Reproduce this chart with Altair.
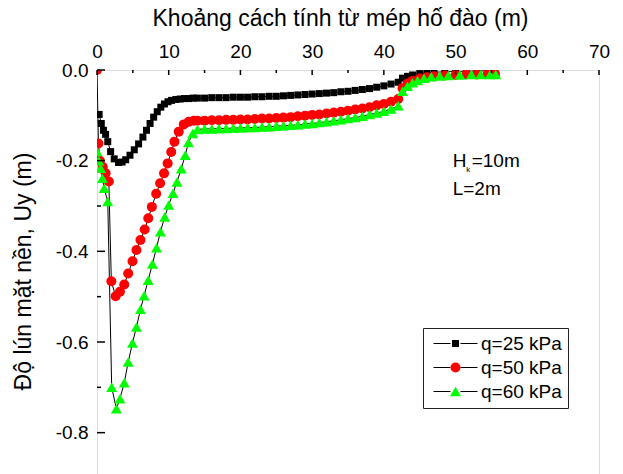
import altair as alt
import pandas as pd

FONT = "Liberation Sans"

series_names = ["q=25 kPa", "q=50 kPa", "q=60 kPa"]
series_keys = ["a", "b", "c"]
series_colors = ["#000000", "#ff0000", "#00ff00"]

x_q25 = [0.3, 0.6, 0.9, 1.2, 1.5, 1.9, 2.4, 3.0, 3.5, 4.0, 4.6, 5.2, 5.8, 6.4, 6.9, 7.4, 7.9, 8.4, 8.9, 9.4,
         9.9, 10.4, 11.0, 11.6, 12.2, 12.8, 13.4,
         14, 15, 16, 17, 18, 19, 20, 21, 22, 23, 24, 25, 26, 27, 28, 29, 30, 31, 32, 33, 34, 35, 36, 37, 38,
         39, 40, 41, 42,
         42.6, 43.3, 44, 45, 46, 47, 48.5, 50, 51.5, 53, 54.5, 55.5]
y_q25 = [-0.098, -0.118, -0.133, -0.142, -0.158, -0.180, -0.196, -0.204, -0.203, -0.198, -0.188, -0.176,
         -0.163, -0.148, -0.133, -0.118, -0.104, -0.092, -0.082, -0.075, -0.070, -0.067, -0.065, -0.064,
         -0.063, -0.063, -0.062,
         -0.062, -0.062, -0.061, -0.061, -0.061, -0.060, -0.060, -0.060, -0.059, -0.059, -0.058, -0.058,
         -0.057, -0.056, -0.055, -0.054, -0.053, -0.052, -0.051, -0.050, -0.048, -0.047, -0.045, -0.043,
         -0.041, -0.038, -0.035, -0.031, -0.027,
         -0.018, -0.014, -0.011, -0.008, -0.006, -0.005, -0.004, -0.003, -0.003, -0.002, -0.002, -0.002]

x_q50 = [0.0, 0.2, 0.4, 0.8, 1.2, 1.65, 2.0, 2.6, 3.2, 3.8, 4.35, 4.95, 5.5, 6.06, 6.65, 7.15, 7.65, 8.25,
         8.8, 9.35, 9.85, 10.35, 10.8, 11.4, 12.1, 12.8, 13.5,
         14, 15, 16, 17, 18, 19, 20, 21, 22, 23, 24, 25, 26, 27, 28, 29, 30, 31, 32, 33, 34, 35, 36, 37, 38,
         39, 40, 41, 42,
         42.6, 43.3, 44, 45, 46, 47, 48.5, 50, 51.5, 53, 54.5, 55.5]
y_q50 = [0.0, -0.162, -0.200, -0.214, -0.228, -0.246, -0.466, -0.499, -0.489, -0.473, -0.449, -0.422,
         -0.397, -0.375, -0.352, -0.327, -0.302, -0.273, -0.250, -0.228, -0.206, -0.181, -0.158, -0.136,
         -0.120, -0.114, -0.112,
         -0.112, -0.112, -0.111, -0.111, -0.110, -0.110, -0.109, -0.109, -0.108, -0.107, -0.107, -0.106,
         -0.105, -0.104, -0.102, -0.101, -0.099, -0.098, -0.096, -0.094, -0.092, -0.090, -0.087, -0.085,
         -0.082, -0.078, -0.075, -0.070, -0.064,
         -0.040, -0.030, -0.024, -0.019, -0.016, -0.014, -0.012, -0.011, -0.010, -0.010, -0.009, -0.009]

x_q60 = [0.0, 0.25, 0.5, 0.75, 1.0, 1.5, 2.05, 2.7, 3.2, 3.8, 4.35, 4.95, 5.5, 6.07, 6.57, 7.13, 7.73, 8.3,
         8.85, 9.44, 10.0, 10.6, 11.15, 11.75, 12.3, 12.75, 13.35,
         14, 15, 16, 17, 18, 19, 20, 21, 22, 23, 24, 25, 26, 27, 28, 29, 30, 31, 32, 33, 34, 35, 36, 37, 38,
         39, 40, 41, 42,
         42.6, 43.3, 44, 44.7, 45.6, 46.6, 47.8, 49, 50.6, 52.2, 53.5, 54.8, 55.6]
y_q60 = [-0.180, -0.200, -0.217, -0.239, -0.261, -0.290, -0.700, -0.747, -0.725, -0.690, -0.644, -0.602,
         -0.567, -0.528, -0.498, -0.464, -0.428, -0.392, -0.357, -0.324, -0.298, -0.272, -0.247, -0.218,
         -0.188, -0.160, -0.140,
         -0.131, -0.130, -0.130, -0.129, -0.129, -0.128, -0.128, -0.127, -0.127, -0.126, -0.125, -0.124,
         -0.123, -0.122, -0.121, -0.119, -0.118, -0.116, -0.114, -0.112, -0.110, -0.107, -0.105, -0.102,
         -0.098, -0.095, -0.091, -0.086, -0.079,
         -0.047, -0.036, -0.028, -0.023, -0.018, -0.015, -0.013, -0.012, -0.011, -0.010, -0.010, -0.010,
         -0.010]

x_tick_labels = [0, 10, 20, 30, 40, 50, 60, 70]
x_minor_ticks = [5, 15, 25, 35, 45, 55, 65]
y_tick_labels = [0.0, -0.2, -0.4, -0.6, -0.8]
y_minor_ticks = [-0.1, -0.3, -0.5, -0.7, -0.9]

# annotation anchors (data units)
note_h = {"x": [49.6], "y": [-0.2135], "t": ["H"]}
note_k = {"x": [49.6], "y": [-0.2135], "t": ["k"]}
note_v = {"x": [49.6], "y": [-0.2135], "t": ["=10m"]}
note_l = {"x": [49.6], "y": [-0.276], "t": ["L=2m"]}

rows = []
for name, key, xs, ys in zip(series_names, series_keys, [x_q25, x_q50, x_q60], [y_q25, y_q50, y_q60]):
    for i, (a, b) in enumerate(zip(xs, ys)):
        rows.append({"series": name, "key": key, "x": a, "y": b, "i": i})
df = pd.DataFrame(rows)

x_scale = alt.Scale(domain=[0, 70], nice=False, zero=False)
y_scale = alt.Scale(domain=[-0.9, 0], nice=False, zero=False)

x_axis = alt.Axis(orient="top", values=x_tick_labels, ticks=False, tickSize=0, domain=False, grid=False,
                  labelFont=FONT, labelFontSize=19, labelColor="black", labelPadding=9, format="d",
                  labelFlush=False,
                  titleFont=FONT, titleFontSize=23, titleFontWeight="normal", titleColor="black",
                  titleX=243, titleAlign="center", titleY=-45, titleBaseline="alphabetic")
y_axis = alt.Axis(orient="left", values=y_tick_labels, ticks=False, tickSize=0, domain=False, grid=False,
                  labelFont=FONT, labelFontSize=19, labelColor="black", labelPadding=9, labelFlush=False,
                  labelExpr="datum.value == 0 ? '0.0' : '-' + format(abs(datum.value), '.1f')",
                  titleFont=FONT, titleFontSize=23, titleFontWeight="normal", titleColor="black",
                  titleX=-67, titleY=201, titleAlign="center", titleBaseline="alphabetic")

LX, LY = 326, 258
common_leg = dict(orient="none", legendX=LX, legendY=LY, title=None, symbolSize=100,
                  symbolStrokeWidth=1, labelFont=FONT, labelFontSize=19, labelColor="black",
                  padding=6, rowPadding=4, symbolOffset=17, labelOffset=16)

legend_lines = alt.Legend(symbolType="M-4.4,0H-1M1,0H4.4", labelOpacity=0, symbolFillColor="transparent",
                          labelExpr="datum.label == 'a' ? 'q=25 kPa' : datum.label == 'b' ? 'q=50 kPa' : 'q=60 kPa'",
                          **common_leg)
legend_marks = alt.Legend(strokeColor="#222222", symbolStrokeColor="transparent", **common_leg)

shape_paths = ["M-0.7,-0.7H0.7V0.7H-0.7Z", "circle", "M0,-0.95L1.1,0.95L-1.1,0.95Z"]

base = alt.Chart(df)

lines = base.mark_line(strokeWidth=1, clip=True).encode(
    x=alt.X("x:Q", scale=x_scale, axis=x_axis, title="Khoảng cách tính từ mép hố đào (m)"),
    y=alt.Y("y:Q", scale=y_scale, axis=y_axis, title="Độ lún mặt nền, Uy (m)"),
    stroke=alt.Stroke("key:N", scale=alt.Scale(domain=series_keys, range=["black", "black", "black"]),
                      legend=legend_lines),
    order=alt.Order("i:Q"),
)

points = base.mark_point(filled=True, size=100, opacity=1, clip=True, strokeWidth=0).encode(
    x=alt.X("x:Q", scale=x_scale),
    y=alt.Y("y:Q", scale=y_scale),
    fill=alt.Fill("series:N", scale=alt.Scale(domain=series_names, range=series_colors), legend=legend_marks),
    shape=alt.Shape("series:N", scale=alt.Scale(domain=series_names, range=shape_paths), legend=legend_marks),
)

xmaj = alt.Chart(pd.DataFrame({"x": x_tick_labels})).mark_rule(color="black", strokeWidth=1.5).encode(
    x=alt.X("x:Q", scale=x_scale), y=alt.value(0), y2=alt.value(5))
xmin = alt.Chart(pd.DataFrame({"x": x_minor_ticks})).mark_rule(color="black", strokeWidth=1.5).encode(
    x=alt.X("x:Q", scale=x_scale), y=alt.value(0), y2=alt.value(3))
ymaj = alt.Chart(pd.DataFrame({"y": y_tick_labels})).mark_rule(color="black", strokeWidth=1.5).encode(
    y=alt.Y("y:Q", scale=y_scale), x=alt.value(0), x2=alt.value(8))
ymin = alt.Chart(pd.DataFrame({"y": y_minor_ticks})).mark_rule(color="black", strokeWidth=1.5).encode(
    y=alt.Y("y:Q", scale=y_scale), x=alt.value(0), x2=alt.value(4))


def note(d, size, dx=0, dy=0):
    return alt.Chart(pd.DataFrame(d)).mark_text(font=FONT, fontSize=size, align="left", baseline="alphabetic",
                                                dx=dx, dy=dy, color="black").encode(
        x=alt.X("x:Q", scale=x_scale), y=alt.Y("y:Q", scale=y_scale), text="t:N")


notes = note(note_h, 19) + note(note_k, 8, dx=13.5, dy=5) + note(note_v, 19, dx=19) + note(note_l, 19)

chart = alt.layer(lines, points, xmaj, xmin, ymaj, ymin, notes).resolve_legend(
    stroke="independent", fill="independent", shape="independent"
).properties(
    width=502, height=408,
    padding={"left": 97, "top": 70, "right": 24, "bottom": 0},
    autosize=alt.AutoSizeParams(type="none"),
).configure_view(stroke="black", strokeWidth=2).configure_legend(strokeWidth=1.5).configure(font=FONT)

chart.save("out.html", embed_options={"renderer": "svg", "actions": False})
